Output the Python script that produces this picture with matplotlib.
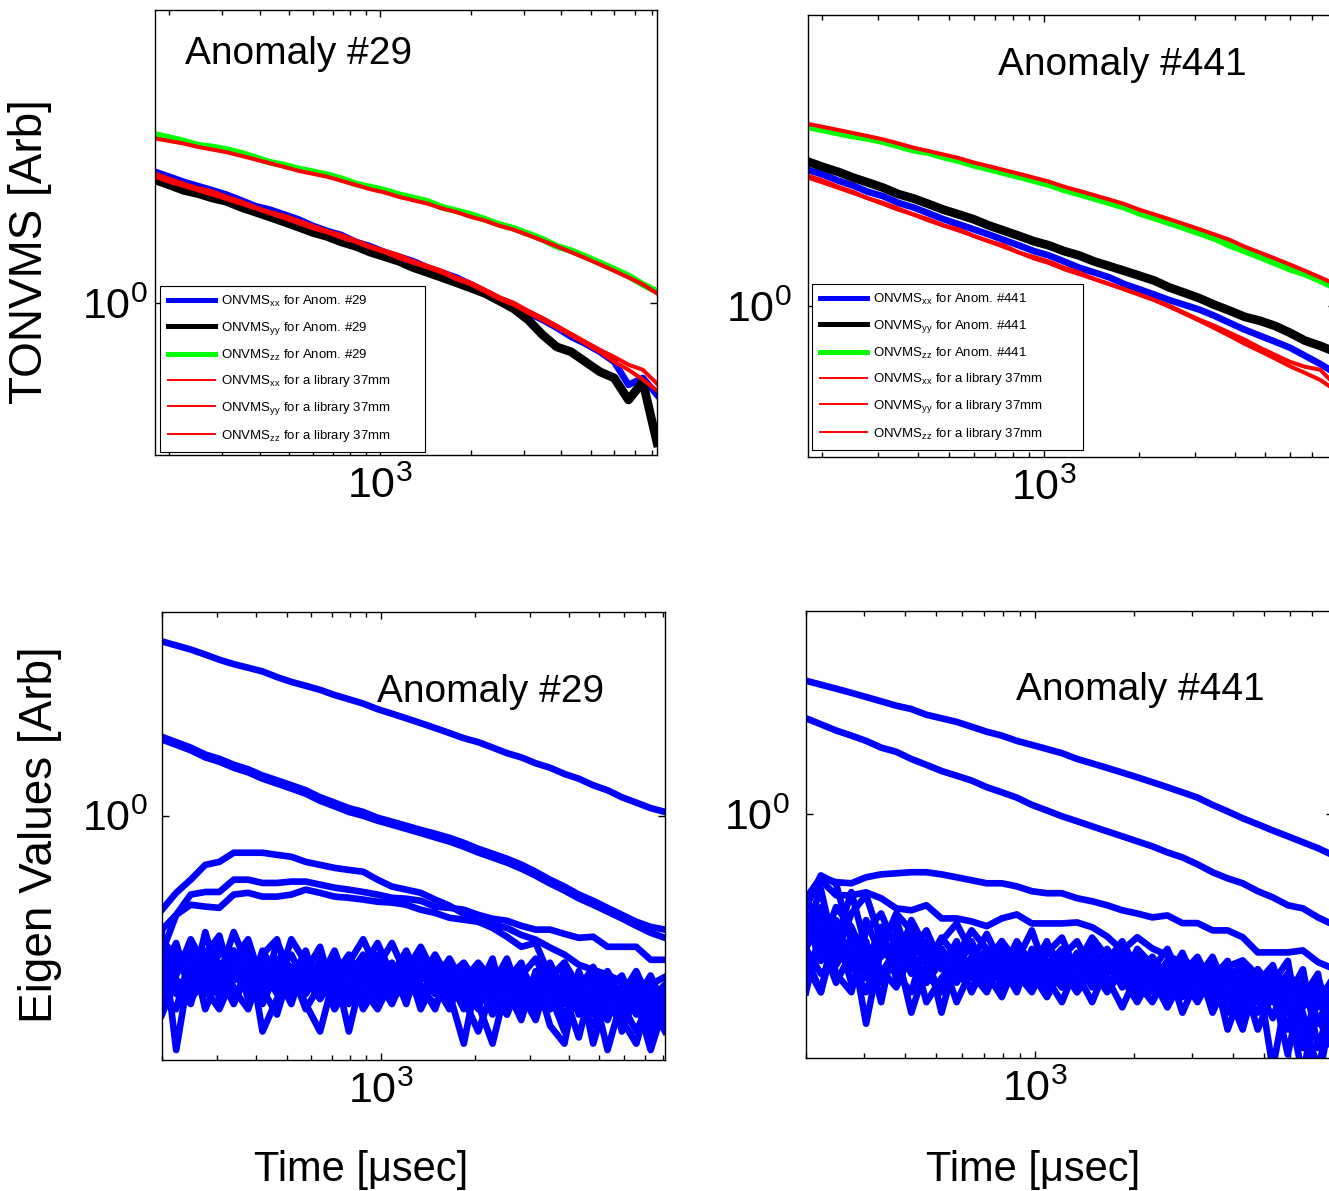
import numpy as np
import matplotlib
matplotlib.use('Agg')
import matplotlib.pyplot as plt
from matplotlib.lines import Line2D
from matplotlib.ticker import LogLocator, NullLocator, NullFormatter, FixedLocator

plt.rcParams['font.family'] = ['Liberation Sans', 'DejaVu Sans']
plt.rcParams['mathtext.fontset'] = 'custom'
plt.rcParams['mathtext.rm'] = 'Liberation Sans'
plt.rcParams['mathtext.it'] = 'Liberation Sans:italic'
plt.rcParams['mathtext.bf'] = 'Liberation Sans:bold'

# ---------------- time gates [usec] ----------------
t_top = [180, 201, 224, 250, 279, 311, 347, 387, 432, 482, 538, 600, 670, 747, 834, 930,
         1038, 1158, 1292, 1442, 1608, 1794, 2002, 2234, 2492, 2781, 3102, 3461, 3862,
         4309, 4808, 5364, 5985, 6677, 7450, 8300]
t_eig = [200, 222, 247, 275, 305, 339, 377, 419, 466, 518, 576, 640, 712, 791, 879, 977,
         1086, 1207, 1342, 1492, 1658, 1843, 2049, 2277, 2531, 2813, 3127, 3476, 3864,
         4295, 4774, 5307, 5898, 6556, 7288, 8100]

# minor tick positions on the time axis
minor_t = [200, 300, 400, 500, 600, 700, 800, 900, 2000, 3000, 4000, 5000, 6000, 7000, 8000, 9000]

# ---------------- Anomaly #29 TONVMS ----------------
a29_xx = [1.97, 1.92, 1.87, 1.83, 1.79, 1.75, 1.70, 1.65, 1.62, 1.58, 1.54, 1.49, 1.45, 1.42,
          1.37, 1.34, 1.30, 1.27, 1.24, 1.20, 1.17, 1.14, 1.10, 1.06, 1.02, 0.99, 0.95, 0.916,
          0.879, 0.839, 0.809, 0.776, 0.737, 0.654, 0.678, 0.621]
a29_yy = [1.89, 1.84, 1.79, 1.76, 1.72, 1.69, 1.64, 1.60, 1.56, 1.52, 1.48, 1.44, 1.41, 1.37,
          1.34, 1.30, 1.27, 1.24, 1.20, 1.17, 1.14, 1.11, 1.08, 1.05, 1.01, 0.97, 0.916, 0.848,
          0.796, 0.776, 0.737, 0.700, 0.678, 0.605, 0.664, 0.485]
a29_zz = [2.39, 2.35, 2.31, 2.26, 2.24, 2.21, 2.17, 2.12, 2.07, 2.04, 2.00, 1.97, 1.94, 1.90,
          1.85, 1.82, 1.79, 1.75, 1.72, 1.69, 1.64, 1.61, 1.58, 1.54, 1.50, 1.47, 1.43, 1.39,
          1.34, 1.31, 1.27, 1.23, 1.19, 1.15, 1.10, 1.06]
a29_lib_xx = [1.95, 1.90, 1.85, 1.81, 1.78, 1.73, 1.69, 1.64, 1.60, 1.57, 1.53, 1.49, 1.45, 1.42,
              1.38, 1.34, 1.31, 1.28, 1.24, 1.21, 1.18, 1.14, 1.11, 1.07, 1.03, 1.00, 0.96, 0.925,
              0.888, 0.852, 0.817, 0.784, 0.756, 0.726, 0.707, 0.658]
a29_lib_yy = [1.92, 1.87, 1.83, 1.79, 1.75, 1.71, 1.67, 1.63, 1.59, 1.55, 1.51, 1.47, 1.44, 1.40,
              1.37, 1.33, 1.30, 1.26, 1.23, 1.20, 1.17, 1.13, 1.10, 1.06, 1.02, 0.99, 0.95, 0.915,
              0.88, 0.845, 0.81, 0.776, 0.737, 0.707, 0.672, 0.635]
a29_lib_zz = [2.34, 2.31, 2.28, 2.24, 2.21, 2.18, 2.14, 2.10, 2.06, 2.02, 1.98, 1.95, 1.92, 1.88,
              1.84, 1.80, 1.77, 1.73, 1.70, 1.67, 1.63, 1.60, 1.56, 1.53, 1.49, 1.46, 1.42, 1.38,
              1.34, 1.30, 1.26, 1.22, 1.18, 1.14, 1.10, 1.05]

# ---------------- Anomaly #441 TONVMS ----------------
a441_xx = [2.03, 1.98, 1.92, 1.87, 1.81, 1.77, 1.71, 1.67, 1.62, 1.57, 1.53, 1.49, 1.45, 1.41,
           1.37, 1.33, 1.30, 1.26, 1.22, 1.19, 1.16, 1.12, 1.09, 1.06, 1.03, 1.005, 0.98, 0.949,
           0.915, 0.883, 0.856, 0.830, 0.804, 0.771, 0.739, 0.705]
a441_yy = [2.12, 2.06, 2.01, 1.95, 1.90, 1.85, 1.79, 1.75, 1.70, 1.65, 1.61, 1.57, 1.52, 1.48,
           1.44, 1.40, 1.37, 1.33, 1.30, 1.26, 1.23, 1.20, 1.17, 1.14, 1.10, 1.07, 1.04, 1.005,
           0.975, 0.944, 0.925, 0.901, 0.869, 0.834, 0.812, 0.787]
a441_zz = [2.54, 2.50, 2.46, 2.42, 2.39, 2.35, 2.30, 2.25, 2.22, 2.17, 2.13, 2.08, 2.04, 2.00,
           1.96, 1.92, 1.88, 1.83, 1.79, 1.75, 1.71, 1.67, 1.62, 1.58, 1.54, 1.50, 1.46, 1.42,
           1.37, 1.33, 1.29, 1.25, 1.21, 1.18, 1.14, 1.10]
a441_lib_xx = [1.97, 1.92, 1.86, 1.81, 1.75, 1.71, 1.66, 1.61, 1.57, 1.52, 1.49, 1.44, 1.40, 1.37,
               1.32, 1.29, 1.26, 1.22, 1.19, 1.15, 1.12, 1.09, 1.06, 1.03, 1.00, 0.964, 0.930,
               0.901, 0.869, 0.838, 0.804, 0.775, 0.747, 0.728, 0.717, 0.663]
a441_lib_yy = [1.95, 1.90, 1.85, 1.80, 1.75, 1.70, 1.65, 1.61, 1.56, 1.52, 1.48, 1.44, 1.40, 1.36,
               1.32, 1.28, 1.25, 1.21, 1.18, 1.15, 1.12, 1.09, 1.06, 1.03, 0.995, 0.96, 0.925,
               0.89, 0.855, 0.82, 0.79, 0.76, 0.73, 0.705, 0.68, 0.645]
a441_lib_zz = [2.58, 2.54, 2.50, 2.46, 2.42, 2.38, 2.33, 2.28, 2.24, 2.20, 2.16, 2.11, 2.07, 2.03,
               1.99, 1.95, 1.91, 1.86, 1.82, 1.78, 1.74, 1.70, 1.65, 1.61, 1.57, 1.53, 1.49, 1.45,
               1.41, 1.36, 1.32, 1.28, 1.24, 1.20, 1.16, 1.12]

# ---------------- eigenvalues, anomaly #29 ----------------
eig29 = [
    [2.45, 2.40, 2.35, 2.29, 2.23, 2.18, 2.14, 2.10, 2.04, 1.99, 1.95, 1.91, 1.86, 1.82, 1.78, 1.73,
     1.69, 1.65, 1.61, 1.57, 1.53, 1.49, 1.46, 1.42, 1.38, 1.35, 1.31, 1.28, 1.24, 1.21, 1.17, 1.14,
     1.10, 1.07, 1.04, 1.02],
    [1.50, 1.46, 1.42, 1.37, 1.34, 1.30, 1.27, 1.23, 1.20, 1.17, 1.14, 1.10, 1.07, 1.04, 1.02, 0.99,
     0.97, 0.95, 0.93, 0.912, 0.893, 0.870, 0.844, 0.823, 0.802, 0.778, 0.750, 0.720, 0.695, 0.667,
     0.646, 0.623, 0.601, 0.580, 0.565, 0.557],
    [1.48, 1.44, 1.40, 1.35, 1.32, 1.28, 1.25, 1.21, 1.18, 1.15, 1.12, 1.08, 1.05, 1.02, 1.00, 0.975,
     0.955, 0.935, 0.915, 0.895, 0.876, 0.853, 0.828, 0.807, 0.786, 0.762, 0.735, 0.706, 0.681,
     0.654, 0.633, 0.611, 0.590, 0.568, 0.548, 0.534],
    [0.617, 0.673, 0.720, 0.777, 0.789, 0.827, 0.827, 0.827, 0.818, 0.810, 0.789, 0.777, 0.765,
     0.757, 0.750, 0.720, 0.695, 0.684, 0.673, 0.650, 0.630, 0.604, 0.580, 0.562, 0.537, 0.510,
     0.520, 0.437, 0.470, 0.415, 0.453, 0.442, 0.426, 0.394, 0.420, 0.437],
    [0.495, 0.601, 0.667, 0.676, 0.676, 0.720, 0.720, 0.708, 0.708, 0.713, 0.713, 0.702, 0.691,
     0.684, 0.676, 0.667, 0.656, 0.653, 0.646, 0.627, 0.623, 0.617, 0.601, 0.589, 0.583, 0.568,
     0.557, 0.557, 0.545, 0.534, 0.537, 0.510, 0.510, 0.510, 0.477, 0.477],
    [0.557, 0.601, 0.633, 0.627, 0.623, 0.667, 0.673, 0.660, 0.660, 0.667, 0.684, 0.673, 0.660,
     0.656, 0.650, 0.643, 0.640, 0.633, 0.617, 0.607, 0.592, 0.586, 0.580, 0.571, 0.562, 0.542,
     0.529, 0.508, 0.490, 0.465, 0.453, 0.420, 0.409, 0.442, 0.398, 0.409],
    [0.55, 0.30, 0.47, 0.42, 0.52, 0.45, 0.40, 0.50, 0.44, 0.38, 0.48, 0.43, 0.50, 0.41, 0.46, 0.52,
     0.44, 0.40, 0.47, 0.42, 0.37, 0.45, 0.41, 0.48, 0.36, 0.43, 0.40, 0.46, 0.35, 0.42, 0.38, 0.44,
     0.33, 0.40, 0.36, 0.41],
    [0.45, 0.52, 0.40, 0.55, 0.43, 0.48, 0.53, 0.42, 0.47, 0.40, 0.45, 0.51, 0.39, 0.44, 0.49, 0.41,
     0.46, 0.38, 0.50, 0.44, 0.40, 0.31, 0.45, 0.39, 0.43, 0.47, 0.37, 0.42, 0.39, 0.44, 0.31, 0.40,
     0.37, 0.43, 0.34, 0.38],
    [0.40, 0.46, 0.51, 0.37, 0.44, 0.55, 0.46, 0.40, 0.52, 0.45, 0.38, 0.33, 0.44, 0.49, 0.42, 0.46,
     0.52, 0.44, 0.39, 0.46, 0.41, 0.44, 0.38, 0.31, 0.42, 0.46, 0.40, 0.37, 0.45, 0.36, 0.41, 0.30,
     0.39, 0.43, 0.32, 0.37],
    [0.50, 0.42, 0.38, 0.49, 0.54, 0.41, 0.37, 0.46, 0.42, 0.53, 0.47, 0.41, 0.46, 0.33, 0.45, 0.40,
     0.44, 0.50, 0.42, 0.37, 0.46, 0.40, 0.45, 0.42, 0.48, 0.39, 0.44, 0.34, 0.31, 0.45, 0.37, 0.42,
     0.35, 0.31, 0.40, 0.34],
    [0.38, 0.44, 0.53, 0.46, 0.40, 0.47, 0.51, 0.33, 0.39, 0.44, 0.41, 0.48, 0.43, 0.38, 0.43, 0.49,
     0.40, 0.46, 0.43, 0.49, 0.43, 0.39, 0.33, 0.41, 0.45, 0.38, 0.42, 0.47, 0.40, 0.32, 0.43, 0.38,
     0.41, 0.36, 0.42, 0.39],
    [0.42, 0.48, 0.44, 0.40, 0.46, 0.43, 0.48, 0.38, 0.45, 0.49, 0.42, 0.46, 0.40, 0.47, 0.53, 0.45,
     0.41, 0.47, 0.37, 0.43, 0.48, 0.42, 0.46, 0.40, 0.36, 0.44, 0.48, 0.41, 0.36, 0.40, 0.44, 0.36,
     0.40, 0.45, 0.38, 0.33],
    [0.47, 0.40, 0.45, 0.50, 0.39, 0.44, 0.42, 0.49, 0.53, 0.41, 0.46, 0.44, 0.37, 0.42, 0.39, 0.44,
     0.47, 0.41, 0.45, 0.40, 0.44, 0.47, 0.42, 0.36, 0.41, 0.35, 0.45, 0.39, 0.43, 0.38, 0.34, 0.41,
     0.44, 0.37, 0.43, 0.36],
    [0.36, 0.43, 0.41, 0.47, 0.44, 0.38, 0.45, 0.41, 0.36, 0.46, 0.43, 0.39, 0.48, 0.44, 0.40, 0.43,
     0.38, 0.45, 0.51, 0.44, 0.41, 0.45, 0.39, 0.44, 0.40, 0.45, 0.41, 0.37, 0.45, 0.41, 0.46, 0.39,
     0.34, 0.41, 0.37, 0.40],
    [0.53, 0.48, 0.42, 0.45, 0.49, 0.50, 0.43, 0.47, 0.41, 0.43, 0.50, 0.39, 0.44, 0.46, 0.41, 0.37,
     0.43, 0.39, 0.44, 0.48, 0.38, 0.43, 0.47, 0.43, 0.38, 0.42, 0.37, 0.43, 0.47, 0.40, 0.36, 0.43,
     0.38, 0.33, 0.39, 0.42],
    [0.43, 0.50, 0.47, 0.41, 0.37, 0.44, 0.41, 0.43, 0.48, 0.42, 0.40, 0.45, 0.42, 0.45, 0.37, 0.42,
     0.46, 0.43, 0.41, 0.38, 0.43, 0.37, 0.41, 0.45, 0.43, 0.37, 0.43, 0.40, 0.33, 0.43, 0.39, 0.35,
     0.42, 0.39, 0.30, 0.38],
    [0.40, 0.37, 0.49, 0.43, 0.47, 0.40, 0.44, 0.46, 0.40, 0.45, 0.37, 0.42, 0.45, 0.40, 0.44, 0.39,
     0.43, 0.48, 0.40, 0.45, 0.40, 0.44, 0.40, 0.38, 0.46, 0.41, 0.38, 0.44, 0.41, 0.37, 0.41, 0.45,
     0.39, 0.42, 0.35, 0.40],
    [0.46, 0.42, 0.39, 0.43, 0.41, 0.50, 0.39, 0.44, 0.42, 0.40, 0.44, 0.47, 0.42, 0.39, 0.47, 0.43,
     0.39, 0.42, 0.46, 0.41, 0.45, 0.41, 0.37, 0.46, 0.42, 0.40, 0.35, 0.45, 0.38, 0.43, 0.37, 0.41,
     0.36, 0.39, 0.44, 0.37],
]

# ---------------- eigenvalues, anomaly #441 ----------------
eig441 = [
    [1.99, 1.95, 1.91, 1.87, 1.83, 1.79, 1.75, 1.72, 1.67, 1.64, 1.61, 1.57, 1.53, 1.50, 1.46, 1.43,
     1.40, 1.37, 1.33, 1.30, 1.27, 1.24, 1.21, 1.18, 1.15, 1.12, 1.09, 1.05, 1.015, 0.98, 0.95, 0.92,
     0.893, 0.866, 0.84, 0.81],
    [1.64, 1.59, 1.54, 1.50, 1.46, 1.41, 1.38, 1.33, 1.29, 1.25, 1.22, 1.19, 1.15, 1.12, 1.09, 1.05,
     1.02, 0.99, 0.965, 0.940, 0.916, 0.893, 0.870, 0.848, 0.822, 0.801, 0.773, 0.742, 0.719, 0.701,
     0.673, 0.652, 0.626, 0.616, 0.588, 0.567],
    [0.649, 0.723, 0.705, 0.701, 0.723, 0.734, 0.738, 0.742, 0.742, 0.734, 0.723, 0.712, 0.701,
     0.701, 0.690, 0.673, 0.666, 0.666, 0.649, 0.639, 0.626, 0.610, 0.600, 0.588, 0.594, 0.571,
     0.571, 0.550, 0.550, 0.531, 0.491, 0.491, 0.491, 0.496, 0.467, 0.452],
    [0.626, 0.712, 0.659, 0.659, 0.669, 0.649, 0.616, 0.610, 0.626, 0.585, 0.585, 0.576, 0.562,
     0.585, 0.597, 0.570, 0.570, 0.570, 0.573, 0.559, 0.533, 0.496, 0.531, 0.501, 0.484, 0.464,
     0.464, 0.443, 0.457, 0.471, 0.436, 0.404, 0.414, 0.383, 0.404, 0.374],
    [0.62, 0.73, 0.70, 0.52, 0.34, 0.50, 0.60, 0.55, 0.47, 0.52, 0.57, 0.49, 0.43, 0.52, 0.47, 0.55,
     0.44, 0.50, 0.46, 0.53, 0.48, 0.42, 0.50, 0.46, 0.41, 0.48, 0.44, 0.39, 0.45, 0.40, 0.36, 0.43,
     0.33, 0.40, 0.35, 0.30],
    [0.55, 0.68, 0.48, 0.60, 0.66, 0.52, 0.45, 0.58, 0.50, 0.36, 0.48, 0.55, 0.50, 0.44, 0.50, 0.45,
     0.52, 0.41, 0.47, 0.51, 0.44, 0.48, 0.39, 0.45, 0.50, 0.42, 0.46, 0.36, 0.43, 0.39, 0.44, 0.27,
     0.41, 0.36, 0.25, 0.38],
    [0.48, 0.40, 0.58, 0.45, 0.52, 0.38, 0.55, 0.48, 0.42, 0.50, 0.44, 0.47, 0.54, 0.46, 0.40, 0.50,
     0.45, 0.41, 0.48, 0.43, 0.47, 0.52, 0.45, 0.40, 0.46, 0.36, 0.43, 0.48, 0.40, 0.44, 0.38, 0.42,
     0.47, 0.30, 0.41, 0.36],
    [0.52, 0.62, 0.44, 0.40, 0.55, 0.60, 0.50, 0.36, 0.46, 0.53, 0.48, 0.40, 0.47, 0.52, 0.45, 0.41,
     0.49, 0.53, 0.44, 0.38, 0.46, 0.42, 0.47, 0.44, 0.39, 0.45, 0.41, 0.46, 0.33, 0.41, 0.45, 0.38,
     0.43, 0.39, 0.44, 0.28],
    [0.44, 0.50, 0.62, 0.56, 0.47, 0.42, 0.48, 0.53, 0.46, 0.40, 0.46, 0.51, 0.44, 0.39, 0.47, 0.43,
     0.51, 0.46, 0.40, 0.45, 0.50, 0.44, 0.41, 0.47, 0.42, 0.46, 0.39, 0.43, 0.47, 0.37, 0.42, 0.46,
     0.36, 0.42, 0.38, 0.43],
    [0.58, 0.47, 0.52, 0.67, 0.50, 0.45, 0.41, 0.49, 0.55, 0.46, 0.42, 0.48, 0.45, 0.50, 0.43, 0.47,
     0.41, 0.48, 0.52, 0.45, 0.40, 0.45, 0.49, 0.41, 0.45, 0.40, 0.47, 0.42, 0.38, 0.45, 0.41, 0.35,
     0.44, 0.40, 0.34, 0.41],
    [0.40, 0.56, 0.50, 0.45, 0.58, 0.48, 0.52, 0.44, 0.50, 0.45, 0.52, 0.43, 0.48, 0.44, 0.52, 0.46,
     0.43, 0.38, 0.46, 0.49, 0.43, 0.37, 0.44, 0.48, 0.43, 0.49, 0.41, 0.45, 0.42, 0.47, 0.40, 0.44,
     0.39, 0.45, 0.30, 0.39],
    [0.50, 0.44, 0.47, 0.53, 0.43, 0.56, 0.44, 0.40, 0.52, 0.48, 0.38, 0.45, 0.50, 0.41, 0.46, 0.49,
     0.44, 0.47, 0.42, 0.47, 0.45, 0.50, 0.42, 0.38, 0.44, 0.47, 0.43, 0.40, 0.45, 0.35, 0.40, 0.43,
     0.38, 0.26, 0.40, 0.34],
    [0.60, 0.52, 0.42, 0.49, 0.45, 0.52, 0.58, 0.46, 0.42, 0.47, 0.51, 0.44, 0.40, 0.48, 0.44, 0.40,
     0.47, 0.43, 0.49, 0.44, 0.41, 0.46, 0.43, 0.46, 0.40, 0.44, 0.48, 0.41, 0.39, 0.43, 0.33, 0.40,
     0.44, 0.37, 0.42, 0.31],
    [0.46, 0.40, 0.54, 0.47, 0.40, 0.50, 0.46, 0.51, 0.38, 0.43, 0.47, 0.52, 0.43, 0.47, 0.49, 0.42,
     0.46, 0.50, 0.41, 0.44, 0.47, 0.41, 0.45, 0.42, 0.47, 0.41, 0.44, 0.38, 0.43, 0.40, 0.45, 0.41,
     0.29, 0.42, 0.37, 0.40],
    [0.65, 0.55, 0.46, 0.52, 0.48, 0.44, 0.50, 0.56, 0.47, 0.50, 0.44, 0.41, 0.46, 0.43, 0.48, 0.44,
     0.39, 0.45, 0.47, 0.41, 0.46, 0.43, 0.38, 0.44, 0.46, 0.39, 0.45, 0.41, 0.36, 0.42, 0.39, 0.45,
     0.41, 0.35, 0.27, 0.37],
    [0.50, 0.60, 0.55, 0.42, 0.47, 0.55, 0.43, 0.47, 0.44, 0.40, 0.49, 0.46, 0.41, 0.46, 0.42, 0.48,
     0.43, 0.45, 0.40, 0.47, 0.42, 0.45, 0.47, 0.43, 0.37, 0.43, 0.38, 0.44, 0.40, 0.33, 0.44, 0.38,
     0.42, 0.39, 0.43, 0.35],
]

# ---------------- figure ----------------
W, H = 1329, 1191
fig = plt.figure(figsize=(W / 100, H / 100), dpi=100)


def panel(l, t, r, b):
    # axes box given in pixel edges (left, top, right, bottom)
    return fig.add_axes([l / W, 1 - b / H, (r - l) / W, (b - t) / H])


def style(ax, xlim, ylim, ypad):
    ax.set_xscale('log')
    ax.set_yscale('log')
    ax.set_xlim(xlim)
    ax.set_ylim(ylim)
    ax.xaxis.set_major_locator(LogLocator(base=10))
    ax.xaxis.set_minor_locator(FixedLocator(minor_t))
    ax.xaxis.set_minor_formatter(NullFormatter())
    ax.yaxis.set_major_locator(LogLocator(base=10))
    ax.yaxis.set_minor_locator(NullLocator())
    ax.yaxis.set_minor_formatter(NullFormatter())
    ax.tick_params(which='both', direction='in', top=True, right=True, width=1.0)
    ax.tick_params(which='major', length=5, labelsize=31)
    ax.tick_params(which='minor', length=3.5)
    ax.tick_params(axis='x', pad=8)
    ax.tick_params(axis='y', pad=ypad)
    for s in ax.spines.values():
        s.set_linewidth(1.0)


BLUE, GREEN, RED = '#0000ff', '#00ff00', '#ff0000'


def tonvms_panel(ax, xx, yy, zz, lxx, lyy, lzz, name):
    ax.plot(t_top, xx, color=BLUE, lw=4.8)
    ax.plot(t_top, yy, color='k', lw=6.3)
    ax.plot(t_top, zz, color=GREEN, lw=4.8)
    for lib in (lxx, lyy, lzz):
        ax.plot(t_top, lib, color=RED, lw=2.9)
    handles = [Line2D([], [], color=BLUE, lw=3.6), Line2D([], [], color='k', lw=3.6),
               Line2D([], [], color=GREEN, lw=3.6), Line2D([], [], color=RED, lw=1.4),
               Line2D([], [], color=RED, lw=1.4), Line2D([], [], color=RED, lw=1.4)]
    labels = [r'ONVMS$_{\mathrm{xx}}$ for Anom. #' + name,
              r'ONVMS$_{\mathrm{yy}}$ for Anom. #' + name,
              r'ONVMS$_{\mathrm{zz}}$ for Anom. #' + name,
              r'ONVMS$_{\mathrm{xx}}$ for a library 37mm',
              r'ONVMS$_{\mathrm{yy}}$ for a library 37mm',
              r'ONVMS$_{\mathrm{zz}}$ for a library 37mm']
    return handles, labels


def add_legend(ax, h, lab, anchor):
    leg = ax.legend(h, lab, loc='lower left', bbox_to_anchor=anchor, mode='expand',
                    borderaxespad=0, fontsize=9.5, handlelength=3.6, handletextpad=0.4,
                    labelspacing=0.82, borderpad=0.6, fancybox=False, framealpha=1,
                    edgecolor='k')
    leg.get_frame().set_linewidth(0.8)


# top-left: anomaly #29
ax1 = panel(155, 10, 657, 455)
h, lab = tonvms_panel(ax1, a29_xx, a29_yy, a29_zz, a29_lib_xx, a29_lib_yy, a29_lib_zz, '29')
style(ax1, (t_top[0], t_top[-1]), (0.455, 4.55), 5)
add_legend(ax1, h, lab, (0.01, 0.007, 0.528, 0.4))
ax1.text(0.06, 0.9, 'Anomaly #29', transform=ax1.transAxes, fontsize=28, va='center')

# top-right: anomaly #441
ax2 = panel(808, 15, 1335, 457)
h, lab = tonvms_panel(ax2, a441_xx, a441_yy, a441_zz, a441_lib_xx, a441_lib_yy, a441_lib_zz, '441')
style(ax2, (t_top[0], t_top[-1]), (0.455, 4.55), 12)
add_legend(ax2, h, lab, (0.0076, 0.016, 0.515, 0.4))
ax2.text(0.36, 0.887, 'Anomaly #441', transform=ax2.transAxes, fontsize=28, va='center')

# bottom-left: eigenvalues #29
ax3 = panel(162, 612, 665, 1060)
for ev in eig29:
    ax3.plot(t_eig, ev, color=BLUE, lw=4.8)
style(ax3, (t_eig[0], t_eig[-1]), (0.285, 2.85), 10)
ax3.text(0.427, 0.821, 'Anomaly #29', transform=ax3.transAxes, fontsize=28, va='center')

# bottom-right: eigenvalues #441
ax4 = panel(806, 611, 1333, 1058)
for ev in eig441:
    ax4.plot(t_eig, ev, color=BLUE, lw=4.8)
style(ax4, (t_eig[0], t_eig[-1]), (0.285, 2.85), 12)
ax4.text(0.398, 0.823, 'Anomaly #441', transform=ax4.transAxes, fontsize=28, va='center')

# axis titles
fig.text(30 / W, 1 - 252 / H, 'TONVMS [Arb]', rotation=90, ha='center', va='center', fontsize=33)
fig.text(40 / W, 1 - 835 / H, 'Eigen Values [Arb]', rotation=90, ha='center', va='center', fontsize=33)
fig.text(361 / W, 1 - 1170 / H, 'Time [\u03bcsec]', ha='center', va='center', fontsize=30)
fig.text(1033 / W, 1 - 1170 / H, 'Time [\u03bcsec]', ha='center', va='center', fontsize=30)

fig.savefig('out.png', dpi=100)
